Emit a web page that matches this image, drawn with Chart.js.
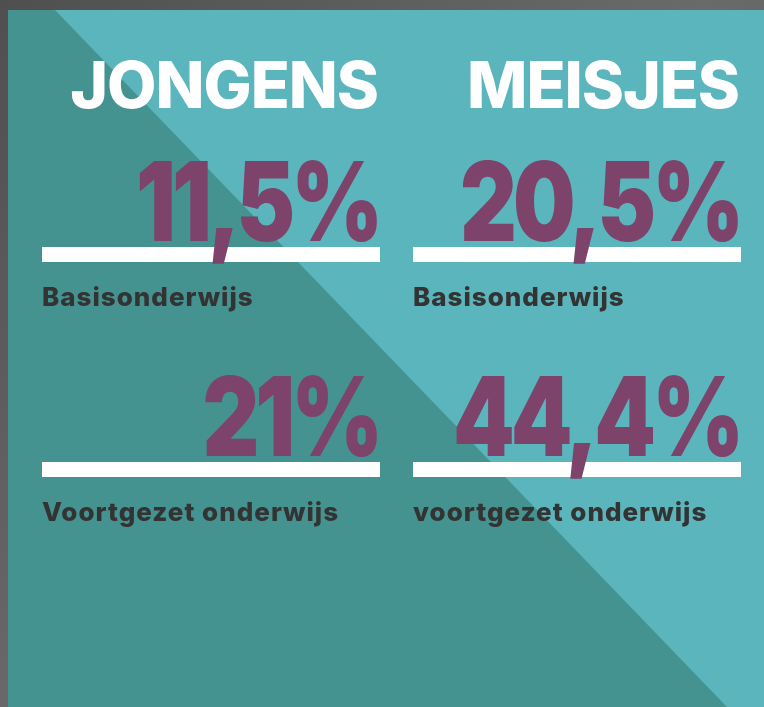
<!DOCTYPE html>
<html lang="nl">
<head>
  <meta charset="UTF-8" />
  <title>Jongens en meisjes</title>
  <script src="https://cdn.jsdelivr.net/npm/chart.js@4.4.0"></script>
  <style>
    * { box-sizing: border-box; margin: 0; padding: 0; }
    html, body { width: 764px; height: 707px; overflow: hidden; background: #585858; }
    .wrap { position: relative; width: 764px; height: 707px; }
  </style>
</head>
<body>
  <div class="wrap"><canvas id="chart"></canvas></div>

  <script>
    // Data
    const groups = ['JONGENS', 'MEISJES'];
    const levels = ['Basisonderwijs', 'Voortgezet onderwijs'];
    const jongens = [11.5, 21];
    const meisjes = [20.5, 44.4];
    const jongensLabels = ['Basisonderwijs', 'Voortgezet onderwijs'];
    const meisjesLabels = ['Basisonderwijs', 'voortgezet onderwijs'];

    const PURPLE = '#7d436b';
    const TEXT = '#333333';

    function makeSet(group, values, labels, r) {
      return {
        label: group,
        data: levels.map((lv, i) => ({ x: group, y: lv, v: values[i], t: labels[i] })),
        pointStyle: 'line',
        pointRadius: r,
        pointHoverRadius: r,
        pointBorderWidth: 15,
        pointHoverBorderWidth: 15,
        pointBorderColor: '#ffffff',
        pointBackgroundColor: '#ffffff',
        clip: false
      };
    }

    const background = {
      id: 'background',
      beforeDraw(chart) {
        const { ctx, width, height } = chart;
        ctx.save();
        // grey frame
        const g = ctx.createLinearGradient(0, 0, width, height);
        g.addColorStop(0, '#4f4f4f');
        g.addColorStop(0.5, '#6a6a6a');
        g.addColorStop(1, '#555555');
        ctx.fillStyle = g;
        ctx.fillRect(0, 0, width, height);
        // dark teal panel
        ctx.fillStyle = '#449391';
        ctx.fillRect(8, 10, width - 8, height - 10);
        // light teal triangle
        ctx.fillStyle = '#5bb5bc';
        ctx.beginPath();
        ctx.moveTo(55, 10);
        ctx.lineTo(width, 10);
        ctx.lineTo(width, height);
        ctx.lineTo(727, height);
        ctx.closePath();
        ctx.fill();
        ctx.restore();
      }
    };

    const labelsPlugin = {
      id: 'texts',
      afterDatasetsDraw(chart) {
        const { ctx } = chart;
        const xs = chart.scales.x;
        const ys = chart.scales.y;
        const firstRow = ys.getPixelForValue(0);
        ctx.save();
        ctx.textAlign = 'right';
        ctx.textBaseline = 'alphabetic';
        chart.data.datasets.forEach((ds, j) => {
          const r = ds.pointRadius;
          const right = xs.getPixelForValue(j) + r;
          // column heading
          ctx.fillStyle = '#ffffff';
          ctx.font = '800 64px Inter';
          ctx.letterSpacing = '-1px';
          ctx.fillText(groups[j], right - 2, firstRow - 147);
          ds.data.forEach(p => {
            const y = ys.getPixelForValue(ys.getLabels().indexOf(p.y));
            // percentage, condensed
            ctx.save();
            ctx.translate(right - 1, y - 14);
            ctx.scale(0.8, 1);
            ctx.fillStyle = PURPLE;
            ctx.font = '900 110px Inter';
            ctx.letterSpacing = '-5px';
            ctx.fillText(p.v.toLocaleString('nl-NL') + '%', 0, 0);
            ctx.restore();
            // sub label
            ctx.textAlign = 'left';
            ctx.fillStyle = TEXT;
            ctx.font = '800 26px Inter';
            ctx.letterSpacing = '1px';
            ctx.fillText(p.t, right - 2 * r, y + 51);
            ctx.textAlign = 'right';
          });
        });
        ctx.restore();
      }
    };

    new Chart(document.getElementById('chart'), {
      type: 'scatter',
      data: {
        datasets: [
          makeSet(groups[0], jongens, jongensLabels, 169),
          makeSet(groups[1], meisjes, meisjesLabels, 164)
        ]
      },
      options: {
        responsive: true,
        maintainAspectRatio: false,
        animation: false,
        events: [],
        layout: { autoPadding: false, padding: { left: 28, right: 4, top: 147, bottom: 130 } },
        plugins: { legend: { display: false }, tooltip: { enabled: false } },
        scales: {
          x: { type: 'category', labels: groups, offset: true, display: false },
          y: { type: 'category', labels: levels, offset: true, display: false }
        }
      },
      plugins: [background, labelsPlugin]
    });
  </script>
</body>
</html>
